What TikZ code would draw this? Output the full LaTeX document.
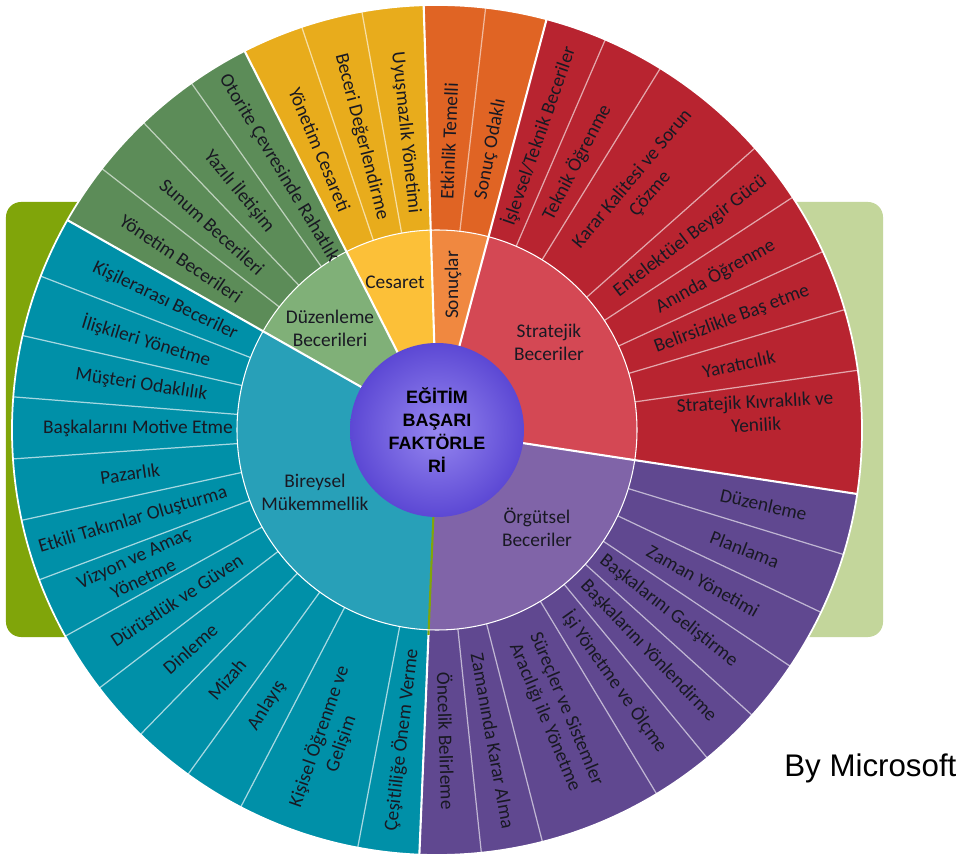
\documentclass[tikz,border=0pt]{standalone}
\usepackage{fontspec}
\setmainfont{Carlito}
\newfontfamily\headfont{Liberation Sans}
\usepackage{tikz}

\definecolor{bgdark}{RGB}{128,165,10}
\definecolor{bglight}{RGB}{195,214,155}
\definecolor{blueout}{RGB}{0,144,168}
\definecolor{bluein}{RGB}{40,160,184}
\definecolor{greenout}{RGB}{92,140,88}
\definecolor{greenin}{RGB}{128,176,120}
\definecolor{yellowout}{RGB}{232,172,28}
\definecolor{yellowin}{RGB}{252,192,56}
\definecolor{orangeout}{RGB}{224,100,36}
\definecolor{orangein}{RGB}{240,136,64}
\definecolor{redout}{RGB}{184,36,48}
\definecolor{redin}{RGB}{212,72,84}
\definecolor{purpleout}{RGB}{96,72,144}
\definecolor{purplein}{RGB}{128,100,168}
\definecolor{corein}{RGB}{150,135,240}
\definecolor{coreout}{RGB}{92,72,212}
\definecolor{labeltext}{RGB}{25,25,35}

\begin{document}
\begin{tikzpicture}[
    lbl/.style={
        font=\fontsize{11}{13.2}\selectfont,
        text=labeltext,
        align=center,
        inner sep=0pt
    },
    core/.style={
        circle,
        minimum size=3.48cm,
        inner color=corein,
        outer color=coreout,
        align=center,
        font=\headfont\bfseries\fontsize{10.2}{13}\selectfont
    },
    sep/.style={white, line width=1.2pt},
    div/.style={line width=0.7pt}
]

% Arka plan
\fill[white] (-8.74,-8.64) rectangle (10.46,8.6);
\useasboundingbox (-8.74,-8.64) rectangle (10.46,8.6);
\fill[bgdark, rounded corners=0.3cm] (-8.62,-4.14) rectangle (1,4.56);
\fill[bglight, rounded corners=0.3cm] (0,-4.14) rectangle (8.92,4.56);

% Dış halka
\fill[orangeout] (91.8:4) arc[start angle=91.8, end angle=75.06, radius=4] -- (75.06:8.5) arc[start angle=75.06, end angle=91.8, radius=8.5] -- cycle;
\fill[redout] (75.06:4) arc[start angle=75.06, end angle=-8.66, radius=4] -- (-8.66:8.5) arc[start angle=-8.66, end angle=75.06, radius=8.5] -- cycle;
\fill[purpleout] (-8.66:4) arc[start angle=-8.66, end angle=-92.38, radius=4] -- (-92.38:8.5) arc[start angle=-92.38, end angle=-8.66, radius=8.5] -- cycle;
\fill[blueout] (-92.38:4) arc[start angle=-92.38, end angle=-209.59, radius=4] -- (-209.59:8.5) arc[start angle=-209.59, end angle=-92.38, radius=8.5] -- cycle;
\fill[greenout] (150.41:4) arc[start angle=150.41, end angle=116.92, radius=4] -- (116.92:8.5) arc[start angle=116.92, end angle=150.41, radius=8.5] -- cycle;
\fill[yellowout] (116.92:4) arc[start angle=116.92, end angle=91.8, radius=4] -- (91.8:8.5) arc[start angle=91.8, end angle=116.92, radius=8.5] -- cycle;

\foreach \a in {83.43}
    \draw[div, orangeout!45!white] (\a:4) -- (\a:8.5);
\foreach \a in {66.68,58.31,41.57,33.20,24.82,16.45,8.08}
    \draw[div, redout!40!white] (\a:4) -- (\a:8.5);
\foreach \a in {-17.03,-25.40,-33.78,-42.15,-50.52,-58.89,-75.64,-84.01}
    \draw[div, purpleout!40!white] (\a:4) -- (\a:8.5);
\foreach \a in {-100.75,-117.50,-125.87,-134.24,-142.61,-150.98,-159.36,-167.73,-176.10,-184.47,-192.84,-201.22}
    \draw[div, blueout!35!white] (\a:4) -- (\a:8.5);
\foreach \a in {-217.96,-226.33,-234.70}
    \draw[div, greenout!40!white] (\a:4) -- (\a:8.5);
\foreach \a in {-251.45,-259.82}
    \draw[div, yellowout!40!white] (\a:4) -- (\a:8.5);

% İç halka
\fill[orangein] (0,0) -- (91.8:4) arc[start angle=91.8, end angle=75.06, radius=4] -- cycle;
\fill[redin] (0,0) -- (75.06:4) arc[start angle=75.06, end angle=-8.66, radius=4] -- cycle;
\fill[purplein] (0,0) -- (-8.66:4) arc[start angle=-8.66, end angle=-92.38, radius=4] -- cycle;
\fill[bluein] (0,0) -- (-92.38:4) arc[start angle=-92.38, end angle=-209.59, radius=4] -- cycle;
\fill[greenin] (0,0) -- (150.41:4) arc[start angle=150.41, end angle=116.92, radius=4] -- cycle;
\fill[yellowin] (0,0) -- (116.92:4) arc[start angle=116.92, end angle=91.8, radius=4] -- cycle;

\foreach \a in {91.8,75.06,-8.66,150.41,116.92}
    \draw[sep] (\a:1.7) -- (\a:8.5);
\draw[sep] (-92.38:4) -- (-92.38:8.5);
\draw[bgdark, line width=1.2pt] (-92.38:1.7) -- (-92.38:4.1);
\draw[white, line width=0.6pt] (0,0) circle[radius=4];
\draw[white, line width=1pt] (0,0) circle[radius=8.5];

% Merkez
\node[core] (core) at (0,0) {EĞİTİM\\BAŞARI\\FAKTÖRLE\\Rİ};

\node[lbl] (bireysel) at (-2.44,-1.24) {Bireysel\\Mükemmellik};
\node[lbl] (duzenleme) at (-2.14,2.04) {Düzenleme\\Becerileri};
\node[lbl] (cesaret) at (-0.84,2.96) {Cesaret};
\node[lbl, rotate=90] (sonuclar) at (0.32,2.9) {Sonuçlar};
\node[lbl] (stratejik) at (2.24,1.76) {Stratejik\\Beceriler};
\node[lbl] (orgutsel) at (2.0,-1.94) {Örgütsel\\Beceriler};

% Sonuçlar
\node[lbl, rotate=87.6] (etkinlik) at (87.6:5.78) {Etkinlik Temelli};
\node[lbl, rotate=79.2] (sonuc) at (79.2:5.72) {Sonuç Odaklı};

% Stratejik Beceriler
\node[lbl, rotate=70.9] (islevsel) at (70.9:6.22) {İşlevsel/Teknik Beceriler};
\node[lbl, rotate=62.5] (teknik) at (62.5:6.04) {Teknik Öğrenme};
\node[lbl, rotate=50] (karar) at (50:6.36) {Karar Kalitesi ve Sorun\\Çözme};
\node[lbl, rotate=37.4] (entelektuel) at (37.4:6.38) {Entelektüel Beygir Gücü};
\node[lbl, rotate=29] (aninda) at (29:6.36) {Anında Öğrenme};
\node[lbl, rotate=20.6] (belirsizlik) at (20.6:6.3) {Belirsizlikle Baş etme};
\node[lbl, rotate=12.3] (yaraticilik) at (12.3:6.18) {Yaratıcılık};
\node[lbl, rotate=3] (kivraklik) at (3:6.38) {Stratejik Kıvraklık ve\\Yenilik};

% Örgütsel Beceriler
\node[lbl, rotate=-12.85] (duzenle) at (-12.85:6.7) {Düzenleme};
\node[lbl, rotate=-21.2] (planlama) at (-21.2:6.6) {Planlama};
\node[lbl, rotate=-29.6] (zaman) at (-29.6:6.12) {Zaman Yönetimi};
\node[lbl, rotate=-38] (gelistirme) at (-38:5.88) {Başkalarını Geliştirme};
\node[lbl, rotate=-46.3] (yonlendirme) at (-46.3:6.12) {Başkalarını Yönlendirme};
\node[lbl, rotate=-54.7] (isi) at (-54.7:6.16) {İşi Yönetme ve Ölçme};
\node[lbl, rotate=-67.3] (surecler) at (-67.3:6.14) {Süreçler ve Sistemler\\Aracılığı ile Yönetme};
\node[lbl, rotate=-79.8] (zamaninda) at (-79.8:6.32) {Zamanında Karar Alma};
\node[lbl, rotate=-88.2] (oncelik) at (-88.2:6.22) {Öncelik Belirleme};

% Bireysel Mükemmellik
\node[lbl, rotate=83.4] (cesitlilik) at (-96.6:6.24) {Çeşitliliğe Önem Verme};
\node[lbl, rotate=70.9] (kisisel) at (-109.1:6.56) {Kişisel Öğrenme ve\\Gelişim};
\node[lbl, rotate=58.3] (anlayis) at (-121.7:6.48) {Anlayış};
\node[lbl, rotate=49.9] (mizah) at (-130.1:6.52) {Mizah};
\node[lbl, rotate=41.6] (dinleme) at (-138.4:6.6) {Dinleme};
\node[lbl, rotate=33.2] (durustluk) at (-146.8:6.22) {Dürüstlük ve Güven};
\node[lbl, rotate=24.8] (vizyon) at (-155.2:6.58) {Vizyon ve Amaç\\Yönetme};
\node[lbl, rotate=16.5] (etkili) at (-163.5:6.34) {Etkili Takımlar Oluşturma};
\node[lbl, rotate=8.1] (pazarlik) at (-171.9:6.2) {Pazarlık};
\node[lbl, rotate=-0.3] (motive) at (179.7:5.98) {Başkalarını Motive Etme};
\node[lbl, rotate=-8.7] (musteri) at (171.3:5.98) {Müşteri Odaklılık};
\node[lbl, rotate=-17] (iliskiler) at (163:6.08) {İlişkileri Yönetme};
\node[lbl, rotate=-25.4] (kisilerarasi) at (154.6:6.02) {Kişilerarası Beceriler};

% Düzenleme Becerileri
\node[lbl, rotate=-33.8] (yonetimbec) at (146.2:6.16) {Yönetim Becerileri};
\node[lbl, rotate=-42.1] (sunum) at (137.9:6.06) {Sunum Becerileri};
\node[lbl, rotate=-50.5] (yazili) at (129.5:6.2) {Yazılı İletişim};
\node[lbl, rotate=-58.9] (otorite) at (121.1:6.12) {Otorite Çevresinde Rahatlık};

% Cesaret
\node[lbl, rotate=-67.3] (yonetimces) at (112.7:6.08) {Yönetim Cesareti};
\node[lbl, rotate=-75.6] (beceri) at (104.4:6.06) {Beceri Değerlendirme};
\node[lbl, rotate=-84] (uyusmazlik) at (96:5.98) {Uyuşmazlık Yönetimi};

\node[anchor=base west, inner sep=0pt, font=\headfont\fontsize{17.8}{20}\selectfont] (credit) at (6.94,-6.92) {By Microsoft};

\end{tikzpicture}
\end{document}
